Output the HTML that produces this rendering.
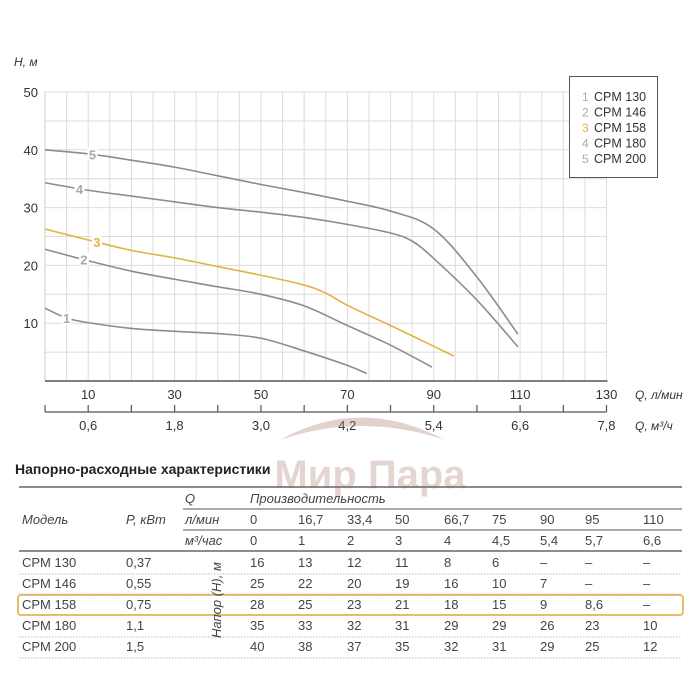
<!DOCTYPE html>
<html><head><meta charset="utf-8">
<style>
html,body{margin:0;padding:0;background:#fff;}
body{width:700px;height:700px;overflow:hidden;position:relative;font-family:"Liberation Sans Narrow","Liberation Sans","DejaVu Sans",sans-serif;color:#333;}
svg text{font-family:"Liberation Sans Narrow","Liberation Sans",sans-serif;}
</style></head>
<body>
<svg id="chart" width="700" height="700" style="position:absolute;left:0;top:0">
  <g id="grid"></g>
  <g id="axes"></g>
  <g id="curves"></g>
  <g opacity="0.35">
    <path d="M280 440 Q360 395 445 440 Q360 412 280 440Z" fill="#b08070"/>
    <text x="370" y="488" text-anchor="middle" font-size="40" font-weight="bold" fill="#b58a7a" font-family="Liberation Sans">Мир Пара</text>
  </g>
  <text x="14" y="66" font-size="12" font-style="italic" fill="#333">H, м</text>
  <g>
    <rect x="569.5" y="76.5" width="88" height="101" fill="#fff" stroke="#555" stroke-width="1"/>
  </g>
  <g id="legend-items"></g>
</svg>

<div style="position:absolute;left:15px;top:461px;font-size:14px;font-weight:bold;color:#222;font-family:'Liberation Sans Narrow','Liberation Sans',sans-serif;">Напорно-расходные характеристики</div>
<svg id="tbl" width="700" height="700" style="position:absolute;left:0;top:0">
</svg>

<script>
// ---------- chart data ----------
const flowTicks = [10, 30, 50, 70, 90, 110, 130];
const m3Ticks = ["0,6", "1,8", "3,0", "4,2", "5,4", "6,6", "7,8"];
const headTicks = [10, 20, 30, 40, 50];
const seriesNames = ["CPM 130", "CPM 146", "CPM 158", "CPM 180", "CPM 200"];
const q1 = [0, 5, 10, 20, 30, 40, 50, 60, 70, 74.5];
const h1 = [12.6, 10.9, 10.1, 9.1, 8.6, 8.2, 7.4, 5.2, 2.7, 1.3];
const q2 = [0, 10, 20, 30, 40, 50, 60, 70, 80, 89.6];
const h2 = [22.8, 20.8, 19, 17.6, 16.3, 15, 13, 9.6, 6.2, 2.4];
const q3 = [0, 10, 20, 30, 40, 50, 60, 65, 70, 80, 90, 94.7];
const h3 = [26.3, 24.4, 22.6, 21.3, 19.8, 18.3, 16.6, 15.2, 13.1, 9.6, 6, 4.3];
const q4 = [0, 10, 20, 30, 40, 50, 60, 70, 80, 85, 90, 100, 109.5];
const h4 = [34.3, 33, 32, 31, 30, 29.2, 28.3, 27.1, 25.6, 24.2, 21.2, 14, 5.9];
const q5 = [0, 10, 20, 30, 40, 50, 60, 70, 80, 90, 100, 109.5];
const h5 = [40, 39.3, 38.2, 37, 35.5, 34, 32.6, 31.1, 29.4, 26.3, 18, 8.1];
const labelQ = [5, 9, 12, 8, 11];

const X0 = 45, X1 = 606.5, Y0 = 381, Y1 = 92;
function sx(q) { return X0 + (q / 130) * (X1 - X0); }
function sy(h) { return Y0 - (h / 50) * (Y0 - Y1); }
const NS = "http://www.w3.org/2000/svg";
function mk(tag, attrs, parent) { const e = document.createElementNS(NS, tag); for (const k in attrs) e.setAttribute(k, attrs[k]); parent.appendChild(e); return e; }

const grid = document.getElementById('grid');
for (let q = 5; q <= 130; q += 5) {
  const l = mk('line', { x1: sx(q), x2: sx(q), y1: Y1, y2: Y0, stroke: '#dcdcdc', 'stroke-width': 1 }, grid);
  
  
}
for (let h = 5; h <= 50; h += 5) {
  const l = mk('line', { x1: X0, x2: X1, y1: sy(h), y2: sy(h), stroke: '#dcdcdc', 'stroke-width': 1 }, grid);
  
  
}
const axes = document.getElementById('axes');
mk('line', { x1: X0, x2: X0, y1: Y1, y2: Y0, stroke: '#ccc' }, axes);
mk('line', { x1: X0, x2: X1 + 1, y1: Y0, y2: Y0, stroke: '#555', 'stroke-width': 1.5 }, axes);
headTicks.forEach(h => {
  const t = mk('text', { x: 38, y: sy(h) + 5, 'text-anchor': 'end', 'font-size': 13, fill: '#333' }, axes);
  t.textContent = h;
  
  
});
flowTicks.forEach((q, i) => {
  const t = mk('text', { x: sx(q), y: 399, 'text-anchor': 'middle', 'font-size': 13, fill: '#333' }, axes);
  t.textContent = q;
  
  
  const t2 = mk('text', { x: sx(q), y: 430, 'text-anchor': 'middle', 'font-size': 13, fill: '#333' }, axes);
  t2.textContent = m3Ticks[i];
  
  
});
mk('line', { x1: X0, x2: X1, y1: 412, y2: 412, stroke: '#555', 'stroke-width': 1.2 }, axes);
for (let q = 0; q <= 130; q += 10) {
  mk('line', { x1: sx(q), x2: sx(q), y1: 405, y2: 412, stroke: '#555', 'stroke-width': 1.2 }, axes);
}
const ux = mk('text', { x: 635, y: 399, 'font-size': 12, 'font-style': 'italic', fill: '#333' }, axes);
ux.textContent = 'Q, л/мин';


const ux2 = mk('text', { x: 635, y: 430, 'font-size': 12, 'font-style': 'italic', fill: '#333' }, axes);
ux2.textContent = 'Q, м³/ч';



function smoothPath(qs, hs) {
  const p = qs.map((q, i) => [sx(q), sy(hs[i])]);
  let d = 'M' + p[0][0] + ' ' + p[0][1];
  for (let i = 0; i < p.length - 1; i++) {
    const a = p[i - 1] || p[i], b = p[i], c = p[i + 1], e = p[i + 2] || c;
    const c1 = [b[0] + (c[0] - a[0]) / 6, b[1] + (c[1] - a[1]) / 6];
    const c2 = [c[0] - (e[0] - b[0]) / 6, c[1] - (e[1] - b[1]) / 6];
    d += ' C' + c1 + ' ' + c2 + ' ' + c;
  }
  return d;
}
function interp(qs, hs, q) {
  for (let i = 0; i < qs.length - 1; i++) if (q >= qs[i] && q <= qs[i + 1]) return hs[i] + (hs[i + 1] - hs[i]) * (q - qs[i]) / (qs[i + 1] - qs[i]);
  return hs[0];
}
const Qs = [q1, q2, q3, q4, q5], Hs = [h1, h2, h3, h4, h5];
const colors = ['#8c8c8c', '#8c8c8c', '#e3b341', '#8c8c8c', '#8c8c8c'];
const curves = document.getElementById('curves');
Qs.forEach((qs, i) => {
  const p = mk('path', { d: smoothPath(qs, Hs[i]), fill: 'none', stroke: colors[i], 'stroke-width': 1.6 }, curves);
  
  
  const lq = labelQ[i], lh = interp(qs, Hs[i], lq);
  mk('rect', { x: sx(lq) - 5, y: sy(lh) - 7, width: 10, height: 13, fill: '#fff' }, curves);
  const t = mk('text', { x: sx(lq), y: sy(lh) + 5, 'text-anchor': 'middle', 'font-size': 13, 'font-weight': 'bold', fill: i === 2 ? '#e3b341' : '#aaa' }, curves);
  t.textContent = i + 1;
  
  
});
const lg = document.getElementById('legend-items');
seriesNames.forEach((n, i) => {
  const y = 101 + i * 15.5;
  const a = mk('text', { x: 582, y: y, 'font-size': 12, fill: i === 2 ? '#e3b341' : '#aaa' }, lg);
  a.textContent = i + 1;
  
  
  const b = mk('text', { x: 594, y: y, 'font-size': 12.5, fill: '#333' }, lg);
  b.textContent = n;
  
  
});

// ---------- table ----------
const colX = [250, 298, 347, 395, 444, 492, 540, 585, 643];
const flowRow = ["0", "16,7", "33,4", "50", "66,7", "75", "90", "95", "110"];
const m3Row = ["0", "1", "2", "3", "4", "4,5", "5,4", "5,7", "6,6"];
const models = ["CPM 130", "CPM 146", "CPM 158", "CPM 180", "CPM 200"];
const powers = ["0,37", "0,55", "0,75", "1,1", "1,5"];
const rows = [
  ["16", "13", "12", "11", "8", "6", "–", "–", "–"],
  ["25", "22", "20", "19", "16", "10", "7", "–", "–"],
  ["28", "25", "23", "21", "18", "15", "9", "8,6", "–"],
  ["35", "33", "32", "31", "29", "29", "26", "23", "10"],
  ["40", "38", "37", "35", "32", "31", "29", "25", "12"]
];
const tbl = document.getElementById('tbl');
function tx(x, y, s, extra, name) {
  const t = mk('text', Object.assign({ x: x, y: y, 'font-size': 13, fill: '#444' }, extra || {}), tbl);
  t.textContent = s;
  
  
  return t;
}
mk('line', { x1: 19, x2: 682, y1: 487, y2: 487, stroke: '#666', 'stroke-width': 1.5 }, tbl);
mk('line', { x1: 183, x2: 682, y1: 509, y2: 509, stroke: '#777', 'stroke-width': 1.3 }, tbl);
mk('line', { x1: 183, x2: 682, y1: 530, y2: 530, stroke: '#777', 'stroke-width': 1.3 }, tbl);
mk('line', { x1: 19, x2: 682, y1: 551, y2: 551, stroke: '#666', 'stroke-width': 1.6 }, tbl);
tx(22, 524, 'Модель', { 'font-style': 'italic' }, 'header-model');
tx(126, 524, 'P, кВт', { 'font-style': 'italic' }, 'header-power');
tx(185, 503, 'Q', { 'font-style': 'italic' }, 'header-q');
tx(250, 503, 'Производительность', { 'font-style': 'italic' }, 'header-capacity');
tx(185, 524, 'л/мин', { 'font-style': 'italic' }, 'header-lmin');
tx(185, 545, 'м³/час', { 'font-style': 'italic' }, 'header-m3h');
flowRow.forEach((v, i) => tx(colX[i], 524, v, null, 'flow-cell'));
m3Row.forEach((v, i) => tx(colX[i], 545, v, null, 'm3-cell'));
mk('rect', { x: 18, y: 595, width: 665, height: 20, rx: 3, fill: 'none', stroke: '#e7bd6b', 'stroke-width': 2 }, tbl);
models.forEach((m, r) => {
  const y = 567 + r * 21;
  tx(22, y, m, null, 'model-cell');
  tx(126, y, powers[r], null, 'power-cell');
  rows[r].forEach((v, i) => tx(colX[i], y, v, null, 'head-cell'));
  if (r !== 2 && r !== 1) mk('line', { x1: 19, x2: 682, y1: y + 7, y2: y + 7, stroke: '#bbb', 'stroke-dasharray': '1.5 1.5' }, tbl);
  if (r === 1) mk('line', { x1: 19, x2: 682, y1: y + 6, y2: y + 6, stroke: '#bbb', 'stroke-dasharray': '1.5 1.5' }, tbl);
});
tx(0, 0, 'Напор (Н), м', { 'font-style': 'italic', transform: 'translate(221,638) rotate(-90)' }, 'head-axis-label');
</script>
</body></html>
